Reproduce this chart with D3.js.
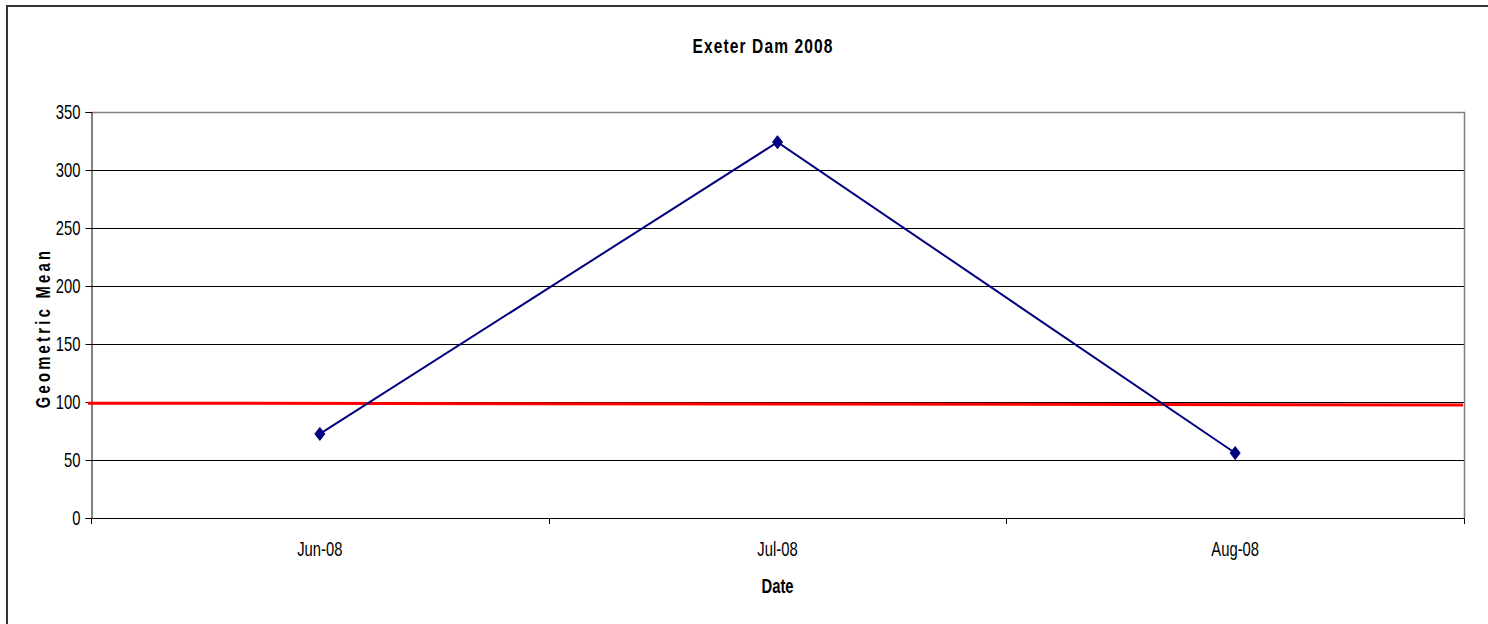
<!DOCTYPE html>
<html>
<head>
<meta charset="utf-8">
<script src="https://cdn.jsdelivr.net/npm/d3@7"></script>
<style>
  html, body { margin: 0; padding: 0; background: #fff; }
  svg { display: block; }
  text { font-family: "Liberation Sans", Arial, sans-serif; fill: #000; }
</style>
</head>
<body>
<svg id="chart" width="1488" height="624"></svg>
<script>
// ---- data ----
const categories = ["Jun-08", "Jul-08", "Aug-08"];
const geoMean = [72.5, 324, 56];
const thresholdValues = [99, 97.5];   // red reference line (start, end)
const yTicks = [0, 50, 100, 150, 200, 250, 300, 350];
const titleText = "Exeter Dam 2008";
const xTitle = "Date";
const yTitle = "Geometric Mean";

// ---- layout ----
const W = 1488, H = 624;
const plot = { left: 91, right: 1464, top: 112, bottom: 518 };
const SX = 0.74;   // horizontal condensing of all text

const svg = d3.select("#chart");

// outer border
svg.append("rect")
  .attr("x", 7).attr("y", 6)
  .attr("width", W + 10).attr("height", H + 10)
  .attr("fill", "#fff").attr("stroke", "#333").attr("stroke-width", 2);

const x = d3.scaleBand().domain(categories).range([plot.left, plot.right]).padding(0);
const y = d3.scaleLinear().domain([0, 350]).range([plot.bottom, plot.top]);

// gridlines
svg.append("g").selectAll("line")
  .data(yTicks.filter(d => d > 0 && d < 350))
  .join("line")
  .attr("x1", plot.left).attr("x2", plot.right)
  .attr("y1", d => Math.round(y(d)) + 0.5).attr("y2", d => Math.round(y(d)) + 0.5)
  .attr("stroke", "#000").attr("stroke-width", 1);

// plot area border (top & right, gray)
svg.append("path")
  .attr("d", `M${plot.left},${plot.top + 0.5}H${plot.right + 0.5}V${plot.bottom}`)
  .attr("fill", "none").attr("stroke", "#808080").attr("stroke-width", 1.5);

// y axis
const yAxis = d3.axisLeft(y).tickValues(yTicks).tickSize(6).tickPadding(6).tickFormat(d3.format("d"));
const gy = svg.append("g").attr("transform", `translate(${plot.left + 0.5},0)`).call(yAxis);
gy.select(".domain").attr("stroke", "#000");
gy.selectAll(".tick line").attr("stroke", "#000");
gy.selectAll(".tick text")
  .attr("font-size", 20).attr("font-family", null).attr("fill", "#000")
  .attr("x", -11 / SX)
  .attr("transform", `scale(${SX},1)`);

// x axis (category boundaries as ticks)
const boundaries = [plot.left].concat(categories.map(c => x(c) + x.bandwidth()));
svg.append("line")
  .attr("x1", plot.left).attr("x2", plot.right + 1)
  .attr("y1", plot.bottom + 0.5).attr("y2", plot.bottom + 0.5)
  .attr("stroke", "#000");
svg.append("g").selectAll("line").data(boundaries).join("line")
  .attr("x1", d => Math.round(d) + 0.5).attr("x2", d => Math.round(d) + 0.5)
  .attr("y1", plot.bottom).attr("y2", plot.bottom + 6)
  .attr("stroke", "#000");
svg.append("g").selectAll("text").data(categories).join("text")
  .attr("transform", d => `translate(${x(d) + x.bandwidth() / 2},556) scale(${SX},1)`)
  .attr("text-anchor", "middle")
  .attr("font-size", 20)
  .text(d => d);

// threshold red line
const tX = [plot.left - 3, plot.right - 1];
svg.append("line")
  .attr("x1", tX[0]).attr("x2", tX[1])
  .attr("y1", y(thresholdValues[0])).attr("y2", y(thresholdValues[1]))
  .attr("stroke", "#ff0000").attr("stroke-width", 3);

// data line
const pts = categories.map((c, i) => [x(c) + x.bandwidth() / 2, y(geoMean[i])]);
svg.append("path")
  .attr("d", d3.line()(pts))
  .attr("fill", "none").attr("stroke", "#000080").attr("stroke-width", 2);

// diamond markers
svg.append("g").selectAll("path").data(pts).join("path")
  .attr("transform", d => `translate(${d[0]},${d[1]})`)
  .attr("d", "M0,-6.5L5,0L0,6.5L-5,0Z")
  .attr("fill", "#000080").attr("stroke", "#000080").attr("stroke-width", 1);

// titles
svg.append("text")
  .attr("transform", `translate(763,53) scale(${SX},1)`)
  .attr("text-anchor", "middle").attr("font-weight", "bold")
  .attr("font-size", 21).attr("letter-spacing", 1.5)
  .text(titleText);

svg.append("text")
  .attr("transform", `translate(${(plot.left + plot.right) / 2},593) scale(${SX},1)`)
  .attr("text-anchor", "middle").attr("font-weight", "bold")
  .attr("font-size", 20)
  .text(xTitle);

svg.append("text")
  .attr("transform", `translate(50,328) rotate(-90) scale(${SX},1)`)
  .attr("text-anchor", "middle").attr("font-weight", "bold")
  .attr("font-size", 20).attr("letter-spacing", 4.4)
  .text(yTitle);
</script>
</body>
</html>
